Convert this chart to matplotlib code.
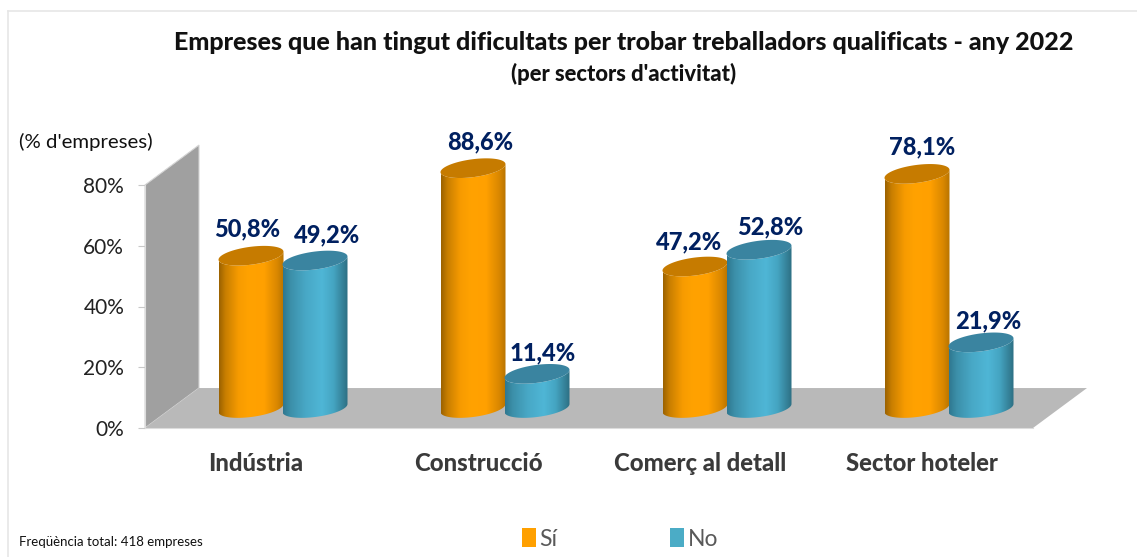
import numpy as np
import matplotlib
matplotlib.use('Agg')
import matplotlib.pyplot as plt
from matplotlib.colors import LinearSegmentedColormap
from matplotlib.patches import Patch, PathPatch, Polygon
from matplotlib.path import Path

# data
categories = ['Indústria', 'Construcció', 'Comerç al detall', 'Sector hoteler']
si_values = [50.8, 88.6, 47.2, 78.1]
no_values = [49.2, 11.4, 52.8, 21.9]
y_ticks = [0, 20, 40, 60, 80]
y_max = 80

# layout, in axis units (1 category = 222 px, 1 % = 3.04 px)
px_x = 1 / 222.0
px_y = 1 / 3.04
depth_x = 54 * px_x
depth_y = 40 * px_y
bar_w = 65 * px_x
bar_gap = 64 * px_x
ell_b = 9 * px_y
ell_tilt = 4 * px_y
bar_scale = 0.987

orange_cmap = LinearSegmentedColormap.from_list('si', [(0, '#9c6200'), (0.1, '#c97f00'), (0.3, '#f79b00'), (0.45, '#ffa200'), (0.7, '#ffa000'), (0.9, '#d98700'), (1, '#b87400')])
blue_cmap = LinearSegmentedColormap.from_list('no', [(0, '#2f7890'), (0.12, '#3c90aa'), (0.35, '#48a8c6'), (0.6, '#4fb6d6'), (0.78, '#45a5c2'), (1, '#2d6f83')])

plt.rcParams['font.family'] = ['Lato', 'DejaVu Sans']

fig = plt.figure(figsize=(11.37, 5.57), dpi=100)
W, H = 1137.0, 557.0
ax = fig.add_axes([145 / W, 1 - 428 / H, 888 / W, 243 / H])
ax.set_xlim(0, 4)
ax.set_ylim(0, y_max)
ax.patch.set_visible(False)


def ellipse_pts(cx, cy, t):
    a = bar_w / 2
    return np.column_stack([cx + a * np.cos(t), cy + ell_b * np.sin(t) + ell_tilt * np.cos(t)])


def cylinder(cx, value, cmap, top_color):
    y0 = depth_y / 2
    y1 = y0 + min(value, y_max) * bar_scale
    t = np.linspace(np.pi, 2 * np.pi, 40)
    lower = ellipse_pts(cx, y0, t)
    upper = ellipse_pts(cx, y1, t[::-1])
    pts = np.vstack([lower, upper, lower[:1]])
    body = PathPatch(Path(pts), fc='none', ec='none', transform=ax.transData, clip_on=False)
    ax.add_patch(body)
    grad = np.linspace(0, 1, 128).reshape(1, -1)
    im = ax.imshow(grad, cmap=cmap, extent=[cx - bar_w / 2, cx + bar_w / 2, y0 - 2 * ell_b, y1 + ell_b], aspect='auto', zorder=3)
    im.set_clip_path(body)
    im.set_clip_box(fig.bbox)
    top = ellipse_pts(cx, y1, np.linspace(0, 2 * np.pi, 80))
    ax.add_patch(Polygon(top, closed=True, fc=top_color, ec='none', zorder=3, clip_on=False))
    return y1


# side wall and floor
ax.add_patch(Polygon([(0, 0), (depth_x, depth_y), (depth_x, y_max + depth_y), (0, y_max)], fc='#a0a0a0', ec='#d4d4d4', lw=0.8, clip_on=False, zorder=1))
ax.add_patch(Polygon([(0, 0), (4, 0), (4 + depth_x, depth_y), (depth_x, depth_y)], fc='#b9b9b9', ec='none', clip_on=False, zorder=1))

# cylinders and value labels
si_label_off = [(-3, 11), (5, 11), (-4, 9.5), (3.5, 11)]
no_label_off = [(9, 10.5), (4, 6.5), (8, 8.3), (5.5, 7.5)]
for i in range(len(categories)):
    cx = i + 0.5 + depth_x / 2
    y_si = cylinder(cx - bar_gap / 2, si_values[i], orange_cmap, '#c67b00')
    y_no = cylinder(cx + bar_gap / 2, no_values[i], blue_cmap, '#3a84a0')
    for x, y, v, off in [(cx - bar_gap / 2, y_si, si_values[i], si_label_off[i]), (cx + bar_gap / 2, y_no, no_values[i], no_label_off[i])]:
        ax.annotate(('%.1f%%' % v).replace('.', ','), (x, y), xytext=off, textcoords='offset points',
                    ha='center', va='bottom', fontsize=17, fontweight='black', color='#002060', zorder=5, annotation_clip=False)
ax.set_xlim(0, 4)
ax.set_ylim(0, y_max)

# axes
for s in ['top', 'right']:
    ax.spines[s].set_visible(False)
ax.spines['bottom'].set_color('#dcdcdc')
ax.spines['left'].set_color('#dcdcdc')
ax.set_yticks(y_ticks)
ax.set_yticklabels(['%d%%' % t for t in y_ticks], fontsize=15, color='#222222')
ax.tick_params(axis='y', length=5, color='#c8c8c8', pad=10)
ax.set_xticks(np.arange(len(categories)) + 0.5)
ax.set_xticklabels(categories, fontsize=17.2, fontweight='black', color='#3a3a3a')
ax.tick_params(axis='x', length=0, pad=17)

# titles and notes
fig.text(624 / W, 1 - 42.5 / H, "Empreses que han tingut dificultats per trobar treballadors qualificats - any 2022", ha='center', va='center', fontsize=18, fontweight='black', color='#111111')
fig.text(624 / W, 1 - 74 / H, "(per sectors d'activitat)", ha='center', va='center', fontsize=15.8, fontweight='black', color='#111111')
fig.text(19 / W, 1 - 142 / H, "(% d'empreses)", ha='left', va='center', fontsize=14.7, color='#111111')
fig.text(19 / W, 1 - 542 / H, "Freqüència total: 418 empreses", ha='left', va='center', fontsize=9.5, color='#111111')

# legend
handles = [Patch(fc='#ffa000', ec='none', label='Sí'), Patch(fc='#4bacc6', ec='none', label='No')]
fig.legend(handles=handles, loc='center', bbox_to_anchor=(620 / W, 1 - 539 / H), ncol=2, frameon=False,
           fontsize=16.5, labelcolor='#595959', handlelength=0.6, handleheight=0.85, handletextpad=0.15, columnspacing=4.95)

# chart frame
fig.add_artist(plt.Line2D([8 / W, 8 / W], [0, 1 - 11 / H], color='#e6e6e6', lw=1.2))
fig.add_artist(plt.Line2D([8 / W, 1], [1 - 11 / H, 1 - 11 / H], color='#e6e6e6', lw=1.2))

fig.savefig('out.png', dpi=100)
plt.close(fig)
